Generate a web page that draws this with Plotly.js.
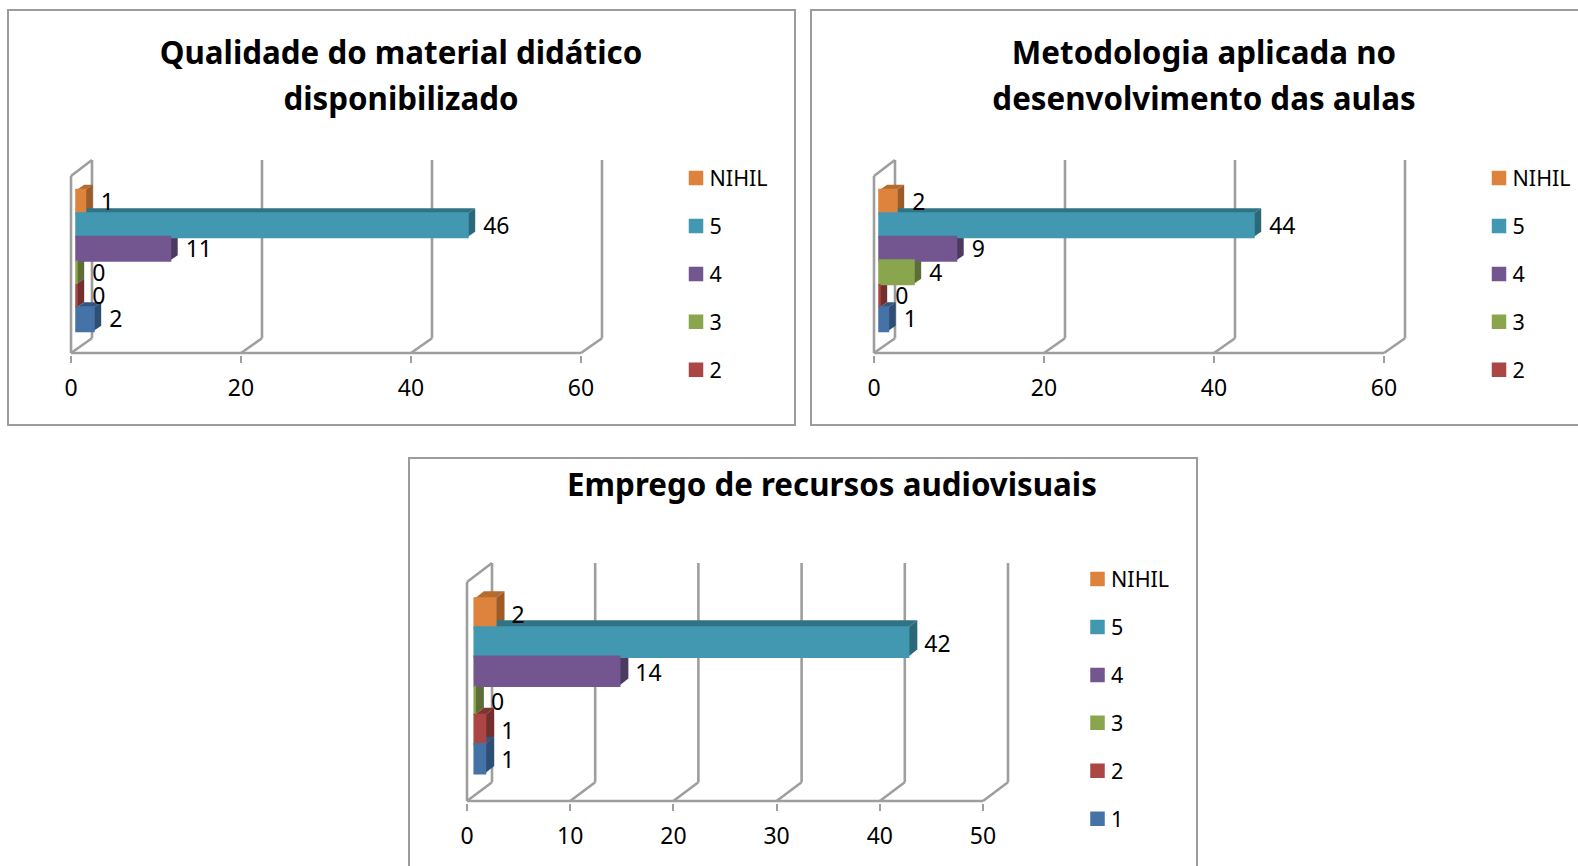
<!DOCTYPE html>
<html>
<head>
<meta charset="utf-8">
<script src="https://cdn.plot.ly/plotly-3.0.1.min.js"></script>
<style>
html,body{margin:0;padding:0;background:#fff;width:1578px;height:866px;overflow:hidden}
.box{position:absolute;box-sizing:border-box;border:2px solid #9c9c9c;background:#fff}
.box>div{width:100%;height:100%}
</style>
</head>
<body>
<div class="box" id="b1" style="left:7px;top:9px;width:789px;height:417px"><div id="c1"></div></div>
<div class="box" id="b2" style="left:810px;top:9px;width:789px;height:417px"><div id="c2"></div></div>
<div class="box" id="b3" style="left:408px;top:457px;width:790px;height:440px"><div id="c3"></div></div>
<script>
// ---- data ----
const seriesNames = ["NIHIL", "5", "4", "3", "2", "1"];
const valuesMaterial = [1, 46, 11, 0, 0, 2];
const valuesMetodologia = [2, 44, 9, 4, 0, 1];
const valuesAudiovisuais = [2, 42, 14, 0, 1, 1];
const ticksTop = [0, 20, 40, 60];
const ticksBottom = [0, 10, 20, 30, 40, 50];
const titleMaterial = ["Qualidade do material didático", "disponibilizado"];
const titleMetodologia = ["Metodologia aplicada no", "desenvolvimento das aulas"];
const titleAudiovisuais = ["Emprego de recursos audiovisuais"];
// ---- colours ----
const frontColors = ["#DD833D", "#4198B0", "#735690", "#89A54E", "#AA4643", "#4572A7"];
const topColors = ["#B56A2E", "#2F7385", "#56406D", "#64793A", "#7F3432", "#335680"];
const sideColors = ["#9C5C2A", "#2B687A", "#4D3A61", "#5B6E35", "#732F2D", "#2E4E73"];
const wallColor = "#9e9e9e";
const FONT = "'Noto Sans', sans-serif";

function panel(divId, values, ticks, titleLines, legendCount, g) {
  const maxTick = ticks[ticks.length - 1];
  const sx = (g.x1 - g.x0) / maxTick;
  const X = px => (px - g.x0) / sx;
  const Y = py => (g.barBottom - py) / g.barH - 0.5;
  const n = values.length;
  const base = X(g.barX);
  const ddx = g.depthX / sx, ddy = g.depthY / g.barH;
  const wdx = g.wallX / sx;
  const yFloor = Y(g.floor), yWallB = Y(g.wallBottom), yWallT = Y(g.wallTop), yFrontT = Y(g.frontTop);

  const line = (x0, y0, x1, y1) => ({type: "line", xref: "x", yref: "y", x0, y0, x1, y1, layer: "below",
    line: {color: wallColor, width: 2.6}});
  const shapes = [];
  ticks.forEach(t => {
    shapes.push(line(t + wdx, yWallB, t + wdx, yWallT));
    shapes.push(line(t, yFloor, t + wdx, yWallB));
  });
  shapes.push(line(0, yFloor, maxTick, yFloor));
  shapes.push(line(0, yFloor, 0, yFrontT));
  shapes.push(line(0, yFrontT, wdx, yWallT));

  const poly = (pts, color) => ({type: "path", xref: "x", yref: "y", layer: "below", fillcolor: color,
    line: {width: 0}, path: "M" + pts.map(p => p[0] + "," + p[1]).join("L") + "Z"});

  const traces = [];
  const labelX = [], labelY = [], labelT = [];
  values.forEach((v, k) => {
    const i = n - 1 - k;
    const end = base + v, yT = i + 0.5, yB = i - 0.5;
    shapes.push(poly([[base, yT], [end, yT], [end + ddx, yT + ddy], [base + ddx, yT + ddy]], topColors[k]));
    shapes.push(poly([[end, yB], [end, yT], [end + ddx, yT + ddy], [end + ddx, yB + ddy]], sideColors[k]));
    traces.push({
      type: "bar", orientation: "h", name: seriesNames[k], x: [v], y: [i], base: [base], width: [1],
      marker: {color: frontColors[k], line: {color: frontColors[k], width: 2.5}},
      legendgroup: seriesNames[k], showlegend: k < legendCount, hoverinfo: "name+text", text: [""], textposition: "none"
    });
    labelX.push(end + ddx + g.labelGap / sx);
    labelY.push(i - g.labelDrop / g.barH);
    labelT.push(String(v));
  });
  traces.push({type: "scatter", mode: "text", x: labelX, y: labelY, text: labelT, textposition: "middle right",
    textfont: {family: FONT, size: g.labelFont, color: "#000"}, showlegend: false, hoverinfo: "skip", cliponaxis: false});

  const left = g.x0 - 3, right = g.x1 + g.wallX + 3, top = g.wallTop - 3, bottom = g.floor + 2;
  const W = g.w, H = g.h;
  const legendLeft = g.swatchX - 20;
  const inner = titleLines.map(s => `<span style="font-size:${g.titleSize}px">${s}</span>`).join("<br>");
  const layout = {
    width: W, height: H, autosize: false,
    paper_bgcolor: "#fff", plot_bgcolor: "rgba(0,0,0,0)",
    margin: {l: left - g.bx, r: g.bx + W - right, t: top - g.by, b: g.by + H - bottom, pad: 0},
    font: {family: FONT, size: g.font, color: "#000"},
    barmode: "overlay", showlegend: true,
    title: {text: inner, font: {family: FONT, size: 35.4, weight: 700, color: "#000"},
      xref: "container", yref: "container", x: (g.titleX - g.bx) / W, xanchor: "center",
      y: 1 - (g.titleY - g.by) / H, yanchor: "top"},
    xaxis: {range: [X(left), X(right)], tickmode: "array", tickvals: ticks, ticktext: ticks.map(String),
      ticks: "outside", ticklen: g.tickLen, tickwidth: 2, tickcolor: wallColor, showgrid: false, zeroline: false,
      showline: false, tickfont: {family: FONT, size: g.labelFont, color: "#000"}, ticklabelstandoff: g.standoff, fixedrange: true},
    yaxis: {range: [Y(bottom), Y(top)], showgrid: false, zeroline: false, showline: false, showticklabels: false,
      ticks: "", fixedrange: true},
    legend: {xref: "container", yref: "container", x: (legendLeft - g.bx) / W, xanchor: "left",
      y: 1 - (g.legendTop - g.by) / H, yanchor: "top", bgcolor: "rgba(0,0,0,0)", maxheight: 430,
      font: {family: FONT, size: g.font, color: "#000"}, tracegroupgap: g.legendGap, indentation: -12.5, itemclick: false, itemdoubleclick: false},
    shapes
  };
  Plotly.newPlot(divId, traces, layout, {displayModeBar: false}).then(gd => {
    // the swatches sit closer to their labels than the legend's fixed gap allows
    gd.querySelectorAll(".legendsymbols").forEach(s => s.setAttribute("transform", "translate(6.5,0)"));
  });
}

const common = {w: 785, h: 413, by: 11, font: 21.5, labelFont: 23, titleSize: 31.3, tickLen: 7, standoff: 5,
  floor: 352.7, wallTop: 160, wallBottom: 338, frontTop: 176, barBottom: 330.7, barH: 23.45,
  depthX: 7.7, depthY: 5.3, wallX: 21, labelGap: 8, labelDrop: 2.5, titleY: 64, legendTop: 157.5, legendGap: 17};

panel("c1", valuesMaterial, ticksTop, titleMaterial, 5,
  Object.assign({}, common, {bx: 9, x0: 70.5, x1: 580.7, barX: 76, swatchX: 702, titleX: 401}));
panel("c2", valuesMetodologia, ticksTop, titleMetodologia, 5,
  Object.assign({}, common, {bx: 812, x0: 873.5, x1: 1383.7, barX: 879, swatchX: 1505, titleX: 1204}));
panel("c3", valuesAudiovisuais, ticksBottom, titleAudiovisuais, 6,
  Object.assign({}, common, {w: 786, h: 436, bx: 410, by: 459, x0: 466.8, x1: 983, barX: 474.5, swatchX: 1103.5, titleX: 832,
    floor: 801, wallTop: 563.3, wallBottom: 782.3, frontTop: 582.3, barBottom: 773.3, barH: 29.1,
    depthX: 9.2, depthY: 7.3, wallX: 25, labelGap: 7, labelDrop: 4, titleY: 471, legendTop: 558.5}));
</script>
</body>
</html>
